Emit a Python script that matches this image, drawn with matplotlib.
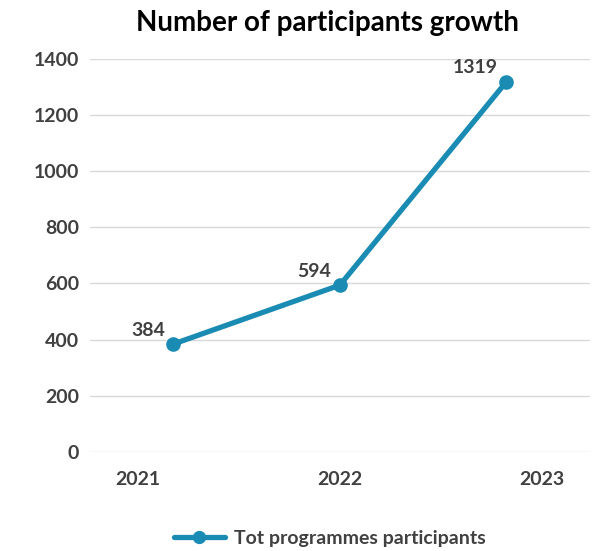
import matplotlib.pyplot as plt

# Participant counts per programme year
years = ["2021", "2022", "2023"]
participants = [384, 594, 1319]
y_ticks = [0, 200, 400, 600, 800, 1000, 1200, 1400]

blue = "#1a8cb4"
grey = "#404040"

plt.rcParams["font.family"] = ["Lato", "DejaVu Sans"]

fig = plt.figure(figsize=(6.08, 5.51), dpi=100)
ax = fig.add_axes([0.148, 0.18, 0.822, 0.713])

x = list(range(len(years)))
ax.plot(x, participants, color=blue, lw=3.8, marker="o", ms=9.5,
        solid_capstyle="round", label="Tot programmes participants", zorder=3)

for xi, v in zip(x, participants):
    ax.annotate(str(v), (xi, v), xytext=(-6, 4), textcoords="offset points",
                ha="right", va="bottom", fontsize=14, fontweight="bold", color=grey)

ax.set_xlim(-0.5, len(years) - 0.5)
ax.set_ylim(0, 1400)
ax.set_yticks(y_ticks)
ax.set_yticklabels([str(t) for t in y_ticks], fontsize=14, fontweight="bold", color=grey)

# category labels sit spread out beyond the point positions
ax.set_xticks([-0.21, 1, 2.21])
ax.set_xticklabels(years, fontsize=14, fontweight="bold", color=grey)

ax.tick_params(axis="both", length=0)
ax.tick_params(axis="y", pad=8)
ax.tick_params(axis="x", pad=14)
ax.grid(axis="y", color="#d9d9d9", lw=1)
ax.set_axisbelow(True)
for s in ax.spines.values():
    s.set_visible(False)

fig.text(0.538, 0.958, "Number of participants growth", ha="center", va="center",
         fontsize=20, fontweight="bold", color="black")

fig.legend(loc="center", bbox_to_anchor=(0.543, 0.023), frameon=False,
           prop={"size": 14, "weight": "bold"}, labelcolor=grey,
           handlelength=2.6, handletextpad=0.5, markerscale=0.9)

fig.savefig("out.png", dpi=100)
